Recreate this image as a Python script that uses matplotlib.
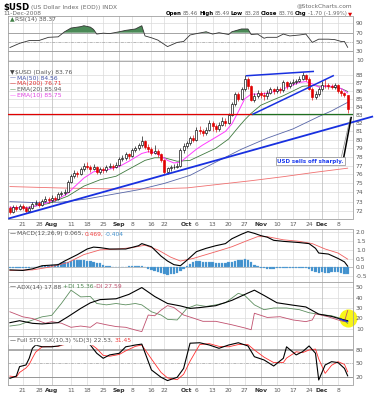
import matplotlib
matplotlib.use('Agg')
import matplotlib.pyplot as plt
from matplotlib.lines import Line2D
from matplotlib.ticker import NullLocator, NullFormatter
import numpy as np
import pandas as pd

W, H = 374, 400

# trading days 15-Jul-2008 .. 11-Dec-2008 (Labor Day, Thanksgiving closed)
days = pd.bdate_range('2008-07-15', '2008-12-11')
days = days[~days.isin(pd.to_datetime(['2008-09-01', '2008-11-27']))]

tick_dates = ['2008-07-21', '2008-07-28', '2008-08-01', '2008-08-11', '2008-08-18',
              '2008-08-25', '2008-09-02', '2008-09-08', '2008-09-16', '2008-09-22',
              '2008-10-01', '2008-10-06', '2008-10-13', '2008-10-20', '2008-10-27',
              '2008-11-03', '2008-11-10', '2008-11-17', '2008-11-24', '2008-12-01',
              '2008-12-08']
tick_labels = ['21', '28', 'Aug', '11', '18', '25', 'Sep', '8', '16', '22', 'Oct', '6',
               '13', '20', '27', 'Nov', '10', '17', '24', 'Dec', '8']
months = ['Aug', 'Sep', 'Oct', 'Nov', 'Dec']

# daily candles
opens = [72.3, 71.9, 72.4, 72.2, 72.5, 72.3, 72.0, 72.3, 72.8, 72.9,
         72.6, 73.1, 73.3, 73.2, 73.4, 73.3, 73.8, 73.9, 74.1, 75.2,
         75.8, 76.2, 76.0, 76.6, 77.0, 76.9, 76.6, 76.9, 76.3, 76.6,
         76.5, 76.9, 77.0, 76.8, 77.1, 77.8, 77.9, 78.3, 78.1, 78.8,
         79.0, 79.4, 79.9, 79.1, 78.9, 78.5, 78.7, 78.3, 77.7, 76.3,
         76.7, 76.8, 76.9, 77.0, 78.8, 79.3, 79.6, 80.2, 80.0, 81.2,
         81.0, 80.8, 81.2, 82.0, 81.6, 81.3, 81.8, 82.3, 82.0, 83.0,
         84.3, 85.6, 85.0, 86.2, 87.6, 86.6, 84.9, 85.4, 85.7, 85.5,
         85.3, 85.8, 86.2, 86.0, 86.3, 86.1, 87.1, 86.6, 87.0, 87.1,
         87.3, 87.6, 88.0, 87.6, 86.3, 85.2, 85.6, 86.2, 86.8, 86.7,
         86.6, 86.5, 86.7, 86.0, 85.7, 85.46]
closes = [71.9, 72.4, 72.2, 72.5, 72.3, 72.0, 72.3, 72.8, 72.9, 72.6,
          73.1, 73.3, 73.2, 73.4, 73.3, 73.8, 73.9, 74.1, 75.2, 75.8,
          76.2, 76.0, 76.6, 77.0, 76.9, 76.6, 76.9, 76.3, 76.6, 76.5,
          76.9, 77.0, 76.8, 77.1, 77.8, 77.9, 78.3, 78.1, 78.8, 79.0,
          79.4, 79.9, 79.1, 78.9, 78.5, 78.7, 78.3, 77.7, 76.3, 76.7,
          76.8, 76.9, 77.0, 78.8, 79.3, 79.6, 80.2, 80.0, 81.2, 81.0,
          80.8, 81.2, 82.0, 81.6, 81.3, 81.8, 82.3, 82.0, 83.0, 84.3,
          85.6, 85.0, 86.2, 87.6, 86.6, 84.9, 85.4, 85.7, 85.5, 85.3,
          85.8, 86.2, 86.0, 86.3, 86.1, 87.1, 86.6, 87.0, 87.1, 87.3,
          87.6, 88.0, 87.6, 86.3, 85.2, 85.6, 86.2, 86.8, 86.7, 86.6,
          86.5, 86.7, 86.0, 85.7, 85.46, 83.76]
highs = [72.5, 72.6, 72.6, 72.7, 72.8, 72.5, 72.5, 73.0, 73.2, 73.1,
         73.3, 73.6, 73.5, 73.7, 73.6, 74.0, 74.2, 74.4, 75.4, 76.0,
         76.5, 76.4, 76.8, 77.3, 77.4, 77.1, 77.2, 77.0, 76.9, 76.9,
         77.1, 77.3, 77.2, 77.4, 78.0, 78.2, 78.6, 78.5, 79.0, 79.3,
         79.6, 80.4, 80.0, 79.5, 79.1, 79.4, 78.9, 78.5, 77.8, 76.9,
         77.1, 77.2, 77.3, 79.0, 79.6, 79.9, 80.5, 80.6, 81.5, 81.6,
         81.3, 81.5, 82.4, 82.2, 81.9, 82.1, 82.7, 82.6, 83.3, 84.6,
         85.9, 85.9, 86.5, 88.0, 87.8, 86.8, 85.8, 86.1, 86.0, 85.9,
         86.1, 86.5, 86.4, 86.6, 86.5, 87.4, 87.3, 87.3, 87.5, 87.6,
         87.9, 88.5, 88.2, 87.8, 86.5, 86.0, 86.5, 87.3, 87.6, 87.0,
         86.9, 87.0, 86.9, 86.2, 85.9, 85.49]
lows = [71.7, 71.8, 72.0, 72.1, 72.1, 71.8, 71.9, 72.2, 72.6, 72.4,
        72.5, 73.0, 72.9, 73.0, 73.1, 73.2, 73.6, 73.7, 74.0, 75.0,
        75.6, 75.7, 75.9, 76.4, 76.6, 76.3, 76.5, 76.0, 76.1, 76.2,
        76.3, 76.7, 76.5, 76.7, 77.0, 77.5, 77.7, 77.8, 78.0, 78.6,
        78.8, 79.2, 78.9, 78.6, 78.2, 78.3, 78.0, 77.4, 76.1, 76.1,
        76.4, 76.6, 76.7, 76.9, 78.5, 79.0, 79.4, 79.7, 79.9, 80.7,
        80.4, 80.6, 81.0, 81.1, 80.9, 81.1, 81.6, 81.7, 81.9, 82.9,
        84.1, 84.7, 84.9, 86.0, 86.3, 84.7, 84.6, 85.1, 85.1, 84.8,
        85.0, 85.6, 85.6, 85.8, 85.8, 85.9, 86.3, 86.4, 86.7, 86.9,
        87.1, 87.4, 87.3, 86.1, 84.9, 85.0, 85.4, 86.0, 86.4, 86.3,
        86.2, 86.3, 85.8, 85.4, 85.2, 83.28]

# overlays (day index, value)
ema10_idx = [0, 5, 10, 15, 18, 20, 23, 26, 30, 34, 37, 41, 43, 45, 47, 49, 51, 53, 55, 58,
             60, 64, 67, 69, 71, 73, 75, 78, 81, 84, 87, 90, 92, 94, 96, 98, 101, 103, 105]
ema10_val = [72.4, 72.3, 72.7, 73.3, 73.9, 74.6, 75.6, 76.3, 76.5, 76.9, 77.5, 78.4, 78.6,
             78.5, 78.1, 77.6, 77.3, 77.4, 78.0, 78.9, 79.4, 80.3, 81.0, 81.9, 83.4, 85.0,
             85.6, 85.6, 85.8, 86.1, 86.6, 87.1, 87.2, 86.9, 86.5, 86.6, 86.6, 86.3, 85.75]
ema20_idx = [0, 6, 12, 18, 23, 28, 33, 37, 42, 45, 48, 52, 56, 60, 64, 68, 71, 73, 75, 78,
             82, 85, 88, 91, 94, 97, 100, 103, 105]
ema20_val = [72.3, 72.4, 72.8, 73.6, 74.7, 75.4, 75.8, 76.6, 77.6, 77.9, 77.9, 77.5, 77.6,
             78.3, 79.0, 80.1, 81.5, 82.4, 83.2, 84.2, 84.9, 85.4, 86.0, 86.6, 86.7, 86.6,
             86.5, 86.3, 85.94]
ma50_idx = [0, 8, 16, 24, 32, 40, 48, 56, 64, 72, 80, 88, 96, 100, 105]
ma50_val = [73.0, 72.9, 72.95, 73.3, 73.8, 74.3, 75.0, 75.9, 77.4, 78.9, 80.2, 81.3, 82.8,
            83.5, 84.56]
ma200_idx = [0, 15, 30, 45, 55, 65, 75, 85, 95, 105]
ma200_val = [74.65, 74.5, 74.4, 74.4, 74.5, 74.9, 75.3, 75.75, 76.25, 76.71]

# drawn trend lines (day index, price)
support_x, support_y = [-0.5, 112.9], [71.19, 82.82]
rising_x, rising_y = [75.6, 100.5], [83.11, 87.96]
top_x, top_y = [73.6, 94.3], [87.96, 88.52]
level_price = 83.15
level_split = 75.3

# RSI(14)
rsi_idx = [0, 3, 6, 9, 12, 15, 17, 19, 22, 23, 25, 26, 27, 29, 31, 34, 36, 39, 41, 42, 44,
           46, 49, 52, 54, 56, 58, 61, 63, 65, 68, 69, 72, 74, 75, 77, 79, 80, 83, 85, 87,
           90, 92, 94, 96, 99, 101, 103, 104, 105]
rsi_val = [38, 47, 53, 53, 60, 61, 72, 80, 83, 85, 82, 77, 67, 69, 68, 72, 75, 78, 85, 63,
           59, 54, 40, 49, 51, 65, 68, 72, 67, 70, 66, 72, 78, 78, 66, 67, 58, 60, 60, 67,
           63, 65, 67, 49, 56, 56, 55, 51, 51, 38.37]

# MACD(12,26,9)
macd_idx = [0, 4, 7, 10, 15, 17, 21, 24, 26, 28, 31, 36, 40, 41, 44, 47, 49, 51, 53, 55,
            58, 61, 64, 67, 69, 72, 74, 76, 78, 80, 82, 85, 88, 90, 93, 95, 96, 99, 102,
            104, 105]
macd_val = [-0.15, -0.18, -0.09, 0.09, 0.15, 0.36, 0.73, 1.05, 1.16, 1.13, 1.05, 1.05, 1.24,
            1.36, 1.18, 0.64, 0.36, 0.15, 0.09, 0.4, 0.9, 1.09, 1.24, 1.36, 1.64, 1.9, 2.05,
            1.95, 1.82, 1.73, 1.55, 1.49, 1.45, 1.42, 1.36, 1.09, 0.82, 0.76, 0.51, 0.31,
            0.065]
signal_idx = [0, 7, 12, 18, 23, 28, 33, 38, 42, 46, 50, 53, 57, 61, 65, 69, 74, 77, 80, 85,
              90, 94, 98, 102, 105]
signal_val = [-0.18, -0.15, 0.0, 0.27, 0.73, 1.0, 1.04, 1.13, 1.27, 1.0, 0.58, 0.36, 0.51,
              0.73, 0.95, 1.18, 1.55, 1.76, 1.76, 1.58, 1.49, 1.36, 1.05, 0.82, 0.469]
hist_val = [-0.03, -0.02, -0.04, -0.03, -0.02, -0.03, -0.02, 0.0, 0.02, 0.03,
            0.06, 0.08, 0.1, 0.12, 0.14, 0.18, 0.22, 0.28, 0.33, 0.37,
            0.4, 0.4, 0.41, 0.4, 0.38, 0.36, 0.32, 0.27, 0.22, 0.16,
            0.1, 0.06, 0.03, 0.02, 0.02, 0.03, 0.04, 0.05, 0.06, 0.06,
            0.07, 0.08, 0.02, -0.08, -0.15, -0.2, -0.28, -0.34, -0.4, -0.42,
            -0.4, -0.36, -0.3, -0.2, -0.08, 0.05, 0.18, 0.28, 0.34, 0.34,
            0.33, 0.3, 0.3, 0.28, 0.27, 0.26, 0.25, 0.27, 0.3, 0.33,
            0.37, 0.4, 0.44, 0.45, 0.4, 0.3, 0.15, 0.05, -0.02, -0.05,
            -0.07, -0.08, -0.07, -0.06, -0.05, -0.04, -0.05, -0.06, -0.05, -0.04,
            -0.05, -0.04, -0.06, -0.12, -0.2, -0.28, -0.3, -0.28, -0.3, -0.3,
            -0.28, -0.25, -0.28, -0.3, -0.36, -0.404]

# ADX(14), +DI, -DI
adx_idx = [0, 3, 7, 10, 15, 18, 22, 25, 28, 33, 37, 41, 45, 49, 53, 56, 59, 64, 69, 74,
           76, 79, 83, 88, 92, 96, 100, 103, 105]
adx_val = [16, 17.9, 15.4, 14.8, 16, 21.6, 29.6, 34.9, 38, 38.8, 43, 49.5, 41, 34.3, 32,
           29.6, 30.4, 32.2, 37.3, 44.3, 47, 42, 35, 32.7, 31, 24.2, 22, 19.3, 17.88]
pdi_idx = [0, 3, 7, 10, 13, 16, 19, 22, 25, 27, 30, 33, 36, 39, 41, 44, 47, 49, 52, 55,
           58, 61, 64, 67, 71, 73, 76, 79, 82, 86, 90, 93, 96, 100, 103, 105]
pdi_val = [12.8, 14, 18.5, 21.6, 23, 34.3, 47, 40.6, 41, 34.3, 33, 34.3, 33, 34.3, 33,
           26.4, 23.3, 19.2, 18.6, 29.6, 33, 31.5, 33, 35, 44, 42, 33, 28.4, 30, 30, 28.4,
           25.5, 24, 22.6, 20, 15.36]
ndi_idx = [0, 4, 7, 11, 13, 16, 19, 22, 25, 27, 30, 33, 36, 39, 41, 43, 45, 47, 49, 51,
           54, 57, 60, 64, 69, 73, 75, 76, 80, 84, 88, 92, 94, 95, 99, 102, 104, 105]
ndi_val = [26.4, 21.6, 20, 15.5, 17, 15.5, 11.6, 12.8, 11.6, 16, 14, 12.3, 11.6, 9, 7.5,
           23.3, 22.6, 28, 32.3, 30.4, 23.3, 20.4, 17.3, 17.3, 14, 11, 9.3, 25, 21, 21.7,
           18.6, 17, 18.6, 24.5, 21.6, 18.6, 17, 27.59]

# Full STO %K(10,3) %D(3)
stok_idx = [0, 2, 3, 5, 6, 7, 8, 10, 13, 15, 18, 21, 24, 25, 27, 29, 31, 34, 36, 39, 41,
            44, 47, 49, 52, 54, 56, 59, 62, 65, 68, 71, 74, 76, 79, 82, 85, 86, 89, 91, 93,
            95, 96, 98, 100, 102, 104, 105]
stok_val = [17, 22, 43, 46.7, 61.5, 83.7, 91, 87, 87, 89, 96, 97, 95, 91, 72.6, 61.5, 69,
            72.6, 87, 91, 93, 35.6, 19.3, 12, 19.3, 39, 95, 96, 91, 83.7, 91, 96, 88.9, 65,
            57.8, 44.4, 61.5, 87, 69, 76.3, 88.9, 72.6, 13.3, 46.7, 54, 52, 39, 22.53]
stod_idx = stok_idx
stod_val = [22, 20, 30, 40, 48, 62, 75, 87, 88, 88, 94, 96, 96, 94, 83, 68, 66, 70, 78, 88,
            91, 60, 30, 18, 14, 26, 55, 92, 94, 88, 87, 92, 92, 80, 64, 52, 52, 62, 76, 74,
            80, 82, 60, 28, 46, 54, 48, 31.45]

GRID = '#dadada'
MONTH_GRID = '#b9b9b9'
LABEL = '#5a5a5a'

day_pos = {d.strftime('%Y-%m-%d'): i for i, d in enumerate(days)}
tick_pos = [day_pos[d] for d in tick_dates]
n = len(days)


def px_rect(top, bottom, left=8.3, right=352.5):
    return [left / W, 1 - bottom / H, (right - left) / W, (bottom - top) / H]


def fx(x):
    return x / W


def fy(y):
    return 1 - y / H


fig = plt.figure(figsize=(W / 100, H / 100), dpi=100)
fig.patch.set_facecolor('white')

ax_rsi = fig.add_axes(px_rect(16, 61))
ax_px = fig.add_axes(px_rect(61, 219))
ax_macd = fig.add_axes(px_rect(229, 282))
ax_adx = fig.add_axes(px_rect(282, 336))
ax_sto = fig.add_axes(px_rect(336, 385))
ax_px.set_yscale('log')


def style(ax, yticks, ylim, fmt, xlabels=False):
    ax.set_xlim(-0.5, n + 0.5)
    ax.set_ylim(*ylim)
    ax.yaxis.tick_right()
    ax.set_yticks(yticks)
    ax.set_yticklabels([fmt.format(v) for v in yticks])
    ax.yaxis.set_minor_locator(NullLocator())
    ax.yaxis.set_minor_formatter(NullFormatter())
    ax.tick_params(axis='both', length=0, labelsize=4.3, labelcolor=LABEL)
    ax.tick_params(axis='y', pad=2.5)
    ax.tick_params(axis='x', pad=2.2)
    for v in yticks:
        ax.axhline(v, color=GRID, lw=0.5, zorder=0)
    for p, lab in zip(tick_pos, tick_labels):
        ax.axvline(p, color=MONTH_GRID if lab in months else GRID, lw=0.5, zorder=0)
    ax.set_xticks(tick_pos)
    if xlabels:
        ax.set_xticklabels(tick_labels)
        for t in ax.get_xticklabels():
            if t.get_text() in months:
                t.set_fontweight('bold')
                t.set_color('#333333')
    else:
        ax.set_xticklabels([])
    for s in ax.spines.values():
        s.set_color('#a0a0a0')
        s.set_linewidth(0.6)


style(ax_rsi, [10, 30, 50, 70, 90], (8.9, 106), '{:.0f}')
style(ax_px, list(range(72, 89)), (71.15, 89.9), '{:.0f}', xlabels=True)
style(ax_macd, [-0.5, 0.0, 0.5, 1.0, 1.5, 2.0], (-0.845, 2.2), '{:.1f}')
style(ax_adx, [10, 20, 30, 40, 50], (3.3, 54.8), '{:.0f}')
style(ax_sto, [20, 50, 80], (2.2, 111), '{:.0f}', xlabels=True)

# ---- RSI
ri = np.array(rsi_idx, float)
rv = np.array(rsi_val, float)
ax_rsi.axhline(70, color='#9a9a9a', lw=0.6, zorder=1)
ax_rsi.axhline(30, color='#9a9a9a', lw=0.6, zorder=1)
ax_rsi.axhline(50, color='#a8a8a8', lw=0.5, ls=(0, (4, 2, 1, 2)), zorder=1)
ax_rsi.fill_between(ri, rv, 70, where=rv >= 70, interpolate=True,
                    color='#4b8a57', lw=0, zorder=2)
ax_rsi.plot(ri, rv, color='#333333', lw=0.6, zorder=3)

# ---- price
ax_px.plot(ma200_idx, ma200_val, color='#f07070', lw=0.6, zorder=2)
ax_px.plot(ma50_idx, ma50_val, color='#5866a8', lw=0.6, zorder=2)
ax_px.plot(ema20_idx, ema20_val, color='#3f7a3f', lw=0.6, zorder=2)
ax_px.plot(ema10_idx, ema10_val, color='#ff3cff', lw=0.7, zorder=2)

o = np.array(opens)
c = np.array(closes)
xi = np.arange(n)
down = c < o
edge = np.where(down, '#e00000', '#000000')
face = np.where(down, '#e00000', '#ffffff')
ax_px.vlines(xi, lows, highs, colors=edge, lw=0.45, zorder=3)
ax_px.bar(xi, np.maximum(np.abs(c - o), 0.05), bottom=np.minimum(o, c), width=0.62,
          color=face, edgecolor=edge, lw=0.45, zorder=4)

ax_px.plot([-0.5, level_split], [level_price, level_price], color='#e00000', lw=0.9, zorder=5)
ax_px.plot([level_split, n + 0.5], [level_price, level_price], color='#1f6f1f', lw=0.9, zorder=5)
ax_px.plot(support_x, support_y, color='#1830e0', lw=1.3, zorder=5, clip_on=False,
           solid_capstyle='butt')
ax_px.plot(rising_x, rising_y, color='#1830e0', lw=1.1, zorder=5)
ax_px.plot(top_x, top_y, color='#1830e0', lw=1.1, zorder=5)

# ---- MACD
ax_macd.axhline(0, color='#b0b0b0', lw=0.5, zorder=1)
ax_macd.bar(xi, hist_val, width=0.75, color='#3f8fcc', edgecolor='#6aaee0', lw=0.2, zorder=2)
ax_macd.plot(signal_idx, signal_val, color='#f06060', lw=0.6, zorder=3)
ax_macd.plot(macd_idx, macd_val, color='#000000', lw=0.8, zorder=4)

# ---- ADX
ax_adx.scatter([105.2], [20.4], s=170, color='#f8f400', alpha=0.9, lw=0, zorder=1.5,
               clip_on=False)
ax_adx.plot(pdi_idx, pdi_val, color='#5e8f60', lw=0.6, zorder=3)
ax_adx.plot(ndi_idx, ndi_val, color='#c0506e', lw=0.6, zorder=3)
ax_adx.plot(adx_idx, adx_val, color='#000000', lw=0.8, zorder=4)
ax_adx.plot([102.6, 105.0], [19.3, 17.0], color='#1830e0', lw=0.9, zorder=5)

# ---- STO
ax_sto.axhline(80, color='#a0a0a0', lw=1.2, zorder=1)
ax_sto.axhline(20, color='#8a8a8a', lw=0.6, zorder=1)
ax_sto.axhline(50, color='#a8a8a8', lw=0.5, ls=(0, (4, 2, 1, 2)), zorder=1)
ax_sto.plot(stod_idx, stod_val, color='#ff3030', lw=0.6, zorder=3)
ax_sto.plot(stok_idx, stok_val, color='#000000', lw=0.8, zorder=4)

# ---- texts
renderer = fig.canvas.get_renderer()


def pieces(x, y, parts, size=4.3, ha='left', gap=1.4, box=False):
    """place coloured text pieces one after another (pixel coordinates)"""
    made = []
    cur = x
    for s, col, wt in parts:
        t = fig.text(fx(cur), fy(y), s, color=col, fontsize=size, fontweight=wt,
                     ha='left', va='center', zorder=10)
        w = t.get_window_extent(renderer=renderer).width
        made.append((t, cur))
        cur += w + gap
    if ha == 'right':
        shift = x - (cur - gap)
        for t, p in made:
            t.set_x(fx(p + shift))
    if box:
        fig.patches.append(plt.Rectangle((fx(x - 1), fy(y + 3.2)), (cur - x) / W,
                                         6.4 / H, transform=fig.transFigure,
                                         color='white', zorder=9))
    return cur


pieces(3, 7.5, [('$USD', '#000000', 'bold'),
                ('(US Dollar Index (EOD)) INDX', '#6a6a6a', 'normal')], size=6.2, gap=1.5)
fig.texts[-1].set_fontsize(4.2)
fig.text(fx(352), fy(5.5), '@StockCharts.com', fontsize=4.2, color='#6a6a6a',
         ha='right', va='center')
fig.text(fx(3), fy(13.5), '11-Dec-2008', fontsize=4.2, color='#6a6a6a', va='center')
pieces(352, 13.5, [('Open', '#000000', 'bold'), ('85.46', '#6a6a6a', 'normal'),
                   ('High', '#000000', 'bold'), ('85.49', '#6a6a6a', 'normal'),
                   ('Low', '#000000', 'bold'), ('83.28', '#6a6a6a', 'normal'),
                   ('Close', '#000000', 'bold'), ('83.76', '#6a6a6a', 'normal'),
                   ('Chg', '#000000', 'bold'), ('-1.70 (-1.99%)', '#6a6a6a', 'normal'),
                   ('\u25bc', '#e00000', 'normal')], size=3.9, ha='right', gap=1.2)

pieces(10, 19.5, [('\u25b2', '#3f7f45', 'normal'), ('RSI(14) 38.37', '#555555', 'normal')],
       gap=0.6)

pieces(10, 72.5, [('\u25bc', '#444444', 'normal'), ('$USD (Daily) 83.76', '#555555', 'normal')],
       gap=0.8)
pieces(10, 78.3, [('\u2014', '#3040a0', 'normal'), ('MA(50) 84.56', '#4050a8', 'normal')], gap=0.6)
pieces(10, 84.0, [('\u2014', '#e00000', 'normal'), ('MA(200) 76.71', '#e03030', 'normal')], gap=0.6)
pieces(10, 89.7, [('\u2014', '#1f6f1f', 'normal'), ('EMA(20) 85.94', '#555555', 'normal')], gap=0.6)
pieces(10, 95.4, [('\u2014', '#ff3cff', 'normal'), ('EMA(10) 85.75', '#e040e0', 'normal')], gap=0.6)

pieces(10, 234, [('\u2014', '#000000', 'normal'), ('MACD(12,26,9) 0.065,', '#555555', 'normal'),
                 ('0.469,', '#f04040', 'normal'), ('-0.404', '#3f8fcc', 'normal')], gap=1.2)
pieces(10, 287, [('\u2014', '#000000', 'normal'), ('ADX(14) 17.88', '#555555', 'normal'),
                 ('+DI 15.36', '#4f8a52', 'normal'), ('-DI 27.59', '#c0506e', 'normal')], gap=1.2)
pieces(10, 340.8, [('\u2014', '#000000', 'normal'),
                   ('Full STO %K(10,3) %D(3) 22.53,', '#555555', 'normal'),
                   ('31.45', '#f04040', 'normal')], gap=1.2, box=True)

# callout
fig.text(fx(310.5), fy(161), 'USD sells off sharply.', fontsize=4.0, color='#1c3cf0',
         fontweight='bold', ha='center', va='center', zorder=10,
         bbox=dict(boxstyle='square,pad=0.3', facecolor='white', edgecolor='#8a8a8a', lw=0.5))
fig.add_artist(Line2D([fx(341.5), fx(350.3)], [fy(156.5), fy(117.5)], color='#8a8a8a',
                      lw=0.5, transform=fig.transFigure, zorder=10))
fig.add_artist(Line2D([fx(342.5), fx(351.2)], [fy(164), fy(117.5)], color='#000000',
                      lw=1.1, transform=fig.transFigure, zorder=10))

fig.savefig('out.png', dpi=100, facecolor='white')
